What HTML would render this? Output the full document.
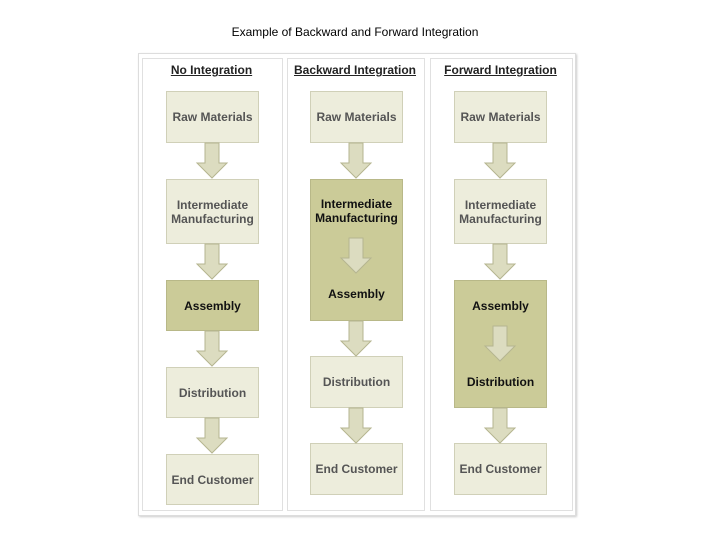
<!DOCTYPE html>
<html><head><style>
body{margin:0;width:720px;height:540px;background:#fff;position:relative;font-family:"Liberation Sans",Arial,sans-serif;overflow:hidden}
.a{position:absolute}
.title{left:0;width:710px;top:25px;text-align:center;font-size:12px;color:#000}
.frame{left:138px;top:53px;width:436px;height:461px;border:1px solid #ddd;box-shadow:1px 1px 2px #ccc}
.col{top:58px;height:451px;border:1px solid #e0e0e0;background:#fff}
.h{font-size:12px;font-weight:bold;text-decoration:underline;text-align:center;color:#222}
.b{background:#ededdc;border:1px solid #d0d0b8;box-sizing:border-box;display:flex;align-items:center;justify-content:center;text-align:center;font-size:12px;font-weight:bold;color:#555;line-height:14px}
.d{background:#cbcb98;border:1px solid #b8b888;color:#111}
</style></head><body>
<div class="a title">Example of Backward and Forward Integration</div>
<div class="a frame"></div>
<div class="a col" style="left:142px;width:139px"></div>
<div class="a col" style="left:287px;width:136px"></div>
<div class="a col" style="left:430px;width:141px"></div>
<div class="a h" style="left:142px;width:139px;top:63px">No Integration</div>
<div class="a h" style="left:287px;width:136px;top:63px">Backward Integration</div>
<div class="a h" style="left:430px;width:141px;top:63px">Forward Integration</div>

<div class="a b" style="left:166px;top:91px;width:93px;height:52px">Raw Materials</div>
<div class="a b" style="left:166px;top:179px;width:93px;height:65px">Intermediate<br>Manufacturing</div>
<div class="a b d" style="left:166px;top:280px;width:93px;height:51px">Assembly</div>
<div class="a b" style="left:166px;top:367px;width:93px;height:51px">Distribution</div>
<div class="a b" style="left:166px;top:454px;width:93px;height:51px">End Customer</div>

<div class="a b" style="left:310px;top:91px;width:93px;height:52px">Raw Materials</div>
<div class="a b d" style="left:310px;top:179px;width:93px;height:142px;display:block;padding-top:17px">Intermediate<br>Manufacturing<div style="height:62px"></div>Assembly</div>
<div class="a b" style="left:310px;top:356px;width:93px;height:52px">Distribution</div>
<div class="a b" style="left:310px;top:443px;width:93px;height:52px">End Customer</div>

<div class="a b" style="left:454px;top:91px;width:93px;height:52px">Raw Materials</div>
<div class="a b" style="left:454px;top:179px;width:93px;height:65px">Intermediate<br>Manufacturing</div>
<div class="a b d" style="left:454px;top:280px;width:93px;height:128px;display:block;padding-top:18px">Assembly<div style="height:62px"></div>Distribution</div>
<div class="a b" style="left:454px;top:443px;width:93px;height:52px">End Customer</div>

<svg class="a" style="left:0;top:0" width="720" height="540">
<defs><path id="ar" d="M-7,0 H7 V20 H15 L0,35 L-15,20 H-7 Z" fill="#dcdcc0" stroke="#b5b590" stroke-width="1"/></defs>
<use href="#ar" x="212" y="143"/>
<use href="#ar" x="212" y="244"/>
<use href="#ar" x="212" y="331"/>
<use href="#ar" x="212" y="418"/>
<use href="#ar" x="356" y="143"/>
<use href="#ar" x="356" y="238"/>
<use href="#ar" x="356" y="321"/>
<use href="#ar" x="356" y="408"/>
<use href="#ar" x="500" y="143"/>
<use href="#ar" x="500" y="244"/>
<use href="#ar" x="500" y="326"/>
<use href="#ar" x="500" y="408"/>
</svg>
</body></html>
